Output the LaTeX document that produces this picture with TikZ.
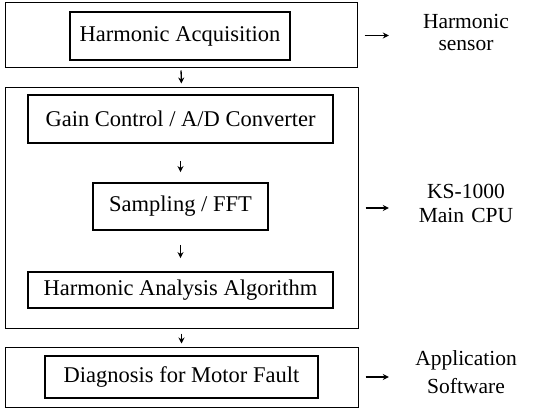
\documentclass[tikz,border=0pt]{standalone}
\usepackage{fontspec}
\setmainfont{Liberation Serif}
\usetikzlibrary{arrows.meta}

\begin{document}
\begin{tikzpicture}[x=1pt,y=1pt]
\tikzset{
  outer/.style={draw=black, line width=1pt, inner sep=0pt},
  stage/.style={draw=black, line width=1.9pt, inner sep=0pt, font=\fontsize{22.5}{26}\selectfont},
  side/.style={inner sep=0pt, text width=110pt, align=center, font=\fontsize{21.5}{24}\selectfont},
  flow/.style={draw=black, line width=1.3pt, -{Stealth[length=6pt,width=6pt]}}
}
\useasboundingbox (0,0) rectangle (533,-409);
% outer frames
\node [outer, minimum width=352pt, minimum height=65pt] (o1) at (181,-35.5) {};
\node [outer, minimum width=353pt, minimum height=240pt] (o2) at (181.5,-208) {};
\node [outer, minimum width=353pt, minimum height=60pt] (o3) at (181.5,-377) {};
% processing stages
\node [stage, minimum width=220pt, minimum height=48pt] (acq) at (180,-36) {Harmonic Acquisition};
\node [stage, minimum width=305pt, minimum height=48pt] (gain) at (180.5,-119) {Gain Control / A/D Converter};
\node [stage, minimum width=175pt, minimum height=47pt] (fft) at (180.5,-206.5) {Sampling / FFT};
\node [stage, minimum width=305pt, minimum height=36pt] (alg) at (180.5,-290) {Harmonic Analysis Algorithm};
\node [stage, minimum width=273pt, minimum height=42pt] (diag) at (181.5,-377) {Diagnosis for Motor Fault};
% hardware / software labels
\node [side] (sensor) at (466,-32) {Harmonic\\[-2pt] sensor};
\node [side] (cpu) at (466,-203) {KS-1000\\ Main CPU};
\node [side] (soft) at (466,-372) {Application\\[4pt] Software};
% flow
\draw [flow, shorten <=2pt, shorten >=4pt] (o1.south) -- (o2.north);
\draw [flow, shorten <=17pt, shorten >=10pt] (gain.south) -- (fft.north);
\draw [flow, shorten <=14pt, shorten >=13pt] (fft.south) -- (alg.north);
\draw [flow, shorten <=5pt, shorten >=3pt] (o2.south) -- (o3.north);
\draw [flow, shorten <=7pt, shorten >=22pt] (o1.east) -- (o1.east -| sensor.west);
\draw [flow, shorten <=7pt, shorten >=22pt] (o2.east) -- (o2.east -| cpu.west);
\draw [flow, shorten <=7pt, shorten >=22pt] (o3.east) -- (o3.east -| soft.west);
\end{tikzpicture}
\end{document}
